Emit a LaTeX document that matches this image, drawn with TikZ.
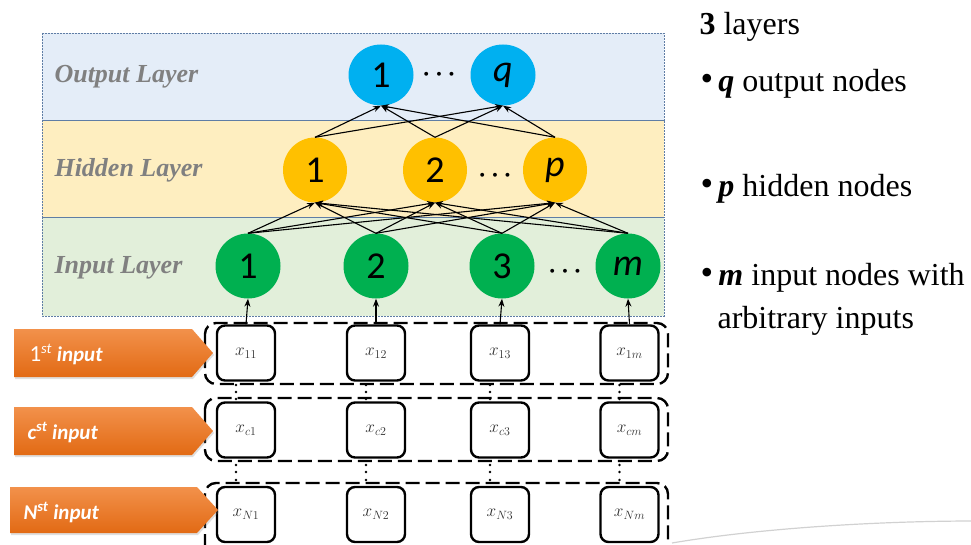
\documentclass[tikz,border=0pt]{standalone}
\usepackage{fontspec}
\setmainfont{Liberation Serif}
\newfontfamily\carlito{Carlito}
\usetikzlibrary{shapes.geometric,arrows.meta,shadows}

\definecolor{outband}{RGB}{228,237,248}
\definecolor{hidband}{RGB}{254,238,192}
\definecolor{inband}{RGB}{226,239,218}
\definecolor{bandline}{RGB}{95,125,165}
\definecolor{outnode}{RGB}{0,176,240}
\definecolor{hidnode}{RGB}{255,192,0}
\definecolor{innode}{RGB}{0,176,80}
\definecolor{labelgray}{RGB}{128,128,128}
\definecolor{orangetop}{RGB}{242,145,75}
\definecolor{orangebot}{RGB}{226,106,20}
\definecolor{celltext}{RGB}{50,50,50}

\newcommand{\bulletmark}{\raisebox{1pt}{\fontsize{36}{36}\selectfont\char"2022}\,}

\tikzset{
  band/.style={draw=bandline, line width=0.8pt, dash pattern=on 2pt off 1pt},
  layerlabel/.style={anchor=west, text=labelgray, font=\fontsize{26}{28}\selectfont\bfseries\itshape},
  neuron/.style={ellipse, inner sep=0pt, font=\carlito\fontsize{38}{40}\selectfont},
  outneuron/.style={neuron, fill=outnode, minimum width=65pt, minimum height=61pt},
  hidneuron/.style={neuron, fill=hidnode, minimum width=64pt, minimum height=65pt},
  inneuron/.style={neuron, fill=innode, minimum width=65pt, minimum height=65pt},
  hdots/.style={font=\fontsize{30}{30}\selectfont\boldmath},
  link/.style={line width=1.1pt, -{Stealth[length=8pt,width=6pt]}},
  cell/.style={draw, line width=2.4pt, rounded corners=8pt, minimum width=58pt,
    minimum height=55pt, text=celltext, font=\fontsize{18}{18}\selectfont},
  rowframe/.style={draw, line width=2.4pt, rounded corners=11pt, dash pattern=on 14pt off 6pt},
  tag/.style={top color=orangetop, bottom color=orangebot, draw=none,
    drop shadow={opacity=0.25, shadow xshift=1pt, shadow yshift=-2pt}},
  tagtext/.style={anchor=base west, text=white, font=\carlito\fontsize{21}{22}\selectfont},
  note/.style={anchor=base west, font=\fontsize{32}{34}\selectfont},
  vdot/.style={fill=black, circle, inner sep=0pt, minimum size=2.6pt}
}

\begin{document}
\begin{tikzpicture}[x=1pt, y=-1pt]
\useasboundingbox (0,0) rectangle (971,545);

% layer bands
\fill[outband] (42,33) rectangle (664,120);
\fill[hidband] (42,120) rectangle (664,217);
\fill[inband] (42,217) rectangle (664,316);
\draw[band] (42,33) rectangle (664,120);
\draw[band] (42,120) rectangle (664,217);
\draw[band] (42,217) rectangle (664,316);

\node[layerlabel] (lo) at (51,77) {Output Layer};
\node[layerlabel] (lh) at (51,170) {Hidden Layer};
\node[layerlabel] (li) at (51,268) {Input Layer};

% neurons
\node[outneuron] (o1) at (381,75) {1};
\node[outneuron] (oq) at (503,75) {\itshape q};
\node[hdots] (od) at (439,75) {$\cdots$};

\node[hidneuron] (h1) at (315,170) {1};
\node[hidneuron] (h2) at (435,170) {2};
\node[hidneuron] (hp) at (555,170) {\itshape p};
\node[hdots] (hd) at (495,176) {$\cdots$};

\node[inneuron] (i1) at (248,266) {1};
\node[inneuron] (i2) at (376,266) {2};
\node[inneuron] (i3) at (502,266) {3};
\node[inneuron] (im) at (628,266) {\itshape m};
\node[hdots] (id) at (565,272) {$\cdots$};

% fully connected links
\foreach \a in {i1,i2,i3,im}
  \foreach \b in {h1,h2,hp}
    \draw[link] (\a.north) -- (\b.south);
\foreach \a in {h1,h2,hp}
  \foreach \b in {o1,oq}
    \draw[link] (\a.north) -- (\b.south);

% dashed frames around each input row
\draw[rowframe] (205,323) rectangle (668,384);
\draw[rowframe] (205,398) rectangle (668,461);
\draw[rowframe] (205,483) rectangle (668,560);

% input cells
\foreach \c/\x/\s in {1/246/1, 2/376/2, 3/500/3, 4/629.5/m}{
  \node[cell, fill=white] (a\c) at (\x,353) {$x_{1\s}$};
  \node[cell, fill=white] (b\c) at (\x,430) {$x_{c\s}$};
  \node[cell, fill=white] (n\c) at (\x,514.5) {$x_{N\s}$};
  \foreach \y in {385,392,399} \node[vdot] at (\x-10,\y) {};
  \foreach \y in {465,472,480} \node[vdot] at (\x-10,\y) {};
}

% cells feed the input neurons
\draw[link] (a1.north) -- (i1.south);
\draw[link] (a2.north) -- (i2.south);
\draw[link] (a3.north) -- (i3.south);
\draw[link] (a4.north) -- (im.south);

% orange row tags
\path[tag] (14,329) -- (192,329) -- (213,353) -- (192,377) -- (14,377) -- cycle;
\path[tag] (14,407) -- (192,407) -- (213,431) -- (192,455) -- (14,455) -- cycle;
\path[tag] (10,487) -- (197,487) -- (218,510) -- (197,533) -- (10,533) -- cycle;
\node[tagtext] (t1) at (26,361) {{\fontsize{23}{23}\selectfont 1}\textsuperscript{\itshape st} \bfseries\itshape input};
\node[tagtext] (t2) at (24,439) {\bfseries\itshape c\textsuperscript{st} input};
\node[tagtext] (t3) at (20,519) {\bfseries\itshape N\textsuperscript{st} input};

% summary text
\node[note] (s0) at (696,35) {\textbf{3} layers};
\node[note] (s1) at (697,92) {\bulletmark\textbf{\textit{q}} output nodes};
\node[note] (s2) at (697,197) {\bulletmark\textbf{\textit{p}} hidden nodes};
\node[note] (s3) at (697,285) {\bulletmark\textbf{\textit{m}} input nodes with};
\node[note] (s4) at (714,328) {arbitrary inputs};

% faint arc near the lower edge
\draw[black!18, line width=1.2pt] (672,543) .. controls (760,528) and (880,521) .. (975,521);
\end{tikzpicture}
\end{document}
